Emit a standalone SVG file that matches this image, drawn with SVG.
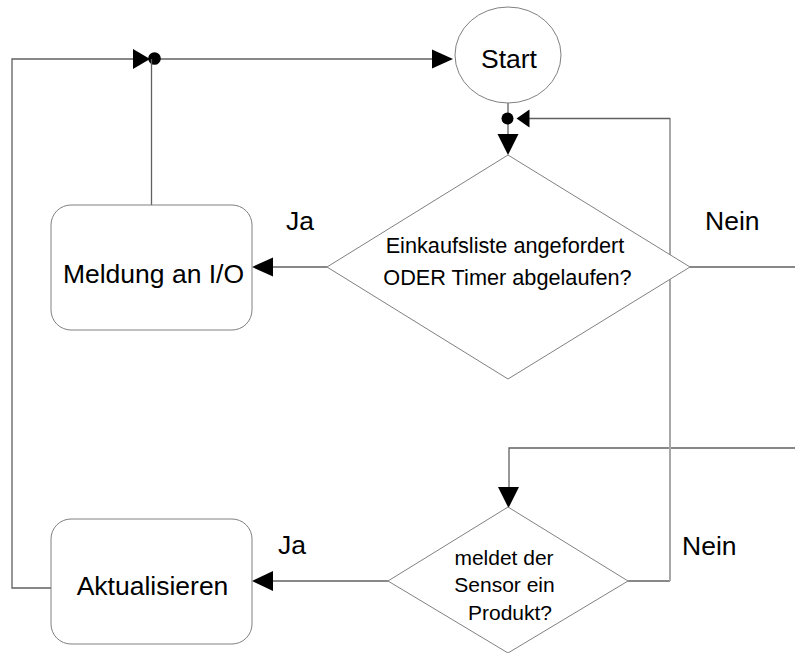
<svg xmlns="http://www.w3.org/2000/svg" width="795" height="653" viewBox="0 0 795 653">
<defs>
<style>
.bg{fill:#ffffff}
.shape{fill:#ffffff;stroke:#808080;stroke-width:1}
.line{fill:none;stroke:#606060;stroke-width:1.3}
.light{fill:none;stroke:#a8a8a8;stroke-width:2}
.head{fill:#000000}
.lbl{font-family:"Liberation Sans",Arial,sans-serif;font-size:26.5px;fill:#000000}
.dlbl{font-family:"Liberation Sans",Arial,sans-serif;font-size:21px;fill:#000000;text-anchor:middle}
.big{font-size:21.7px}
</style>
</defs>
<rect class="bg" x="0" y="0" width="795" height="653"/>
<g id="connectors">
  <!-- Aktualisieren loop back to start -->
  <polyline class="line" points="51,588 12,588 12,59 135,59"/>
  <line class="line" x1="160" y1="59" x2="435" y2="59"/>
  <polygon class="head" points="133,49 150,59 133,69"/>
  <circle class="head" cx="154.5" cy="58.5" r="6.3"/>
  <polygon class="head" points="432,49.5 453,59 432,68.5"/>
  <!-- Meldung up to loop -->
  <line class="line" x1="151.5" y1="205" x2="151.5" y2="59"/>
  <!-- Start down to diamond 1 -->
  <line class="line" x1="508" y1="103" x2="508" y2="137"/>
  <circle class="head" cx="507.5" cy="118.5" r="6"/>
  <polygon class="head" points="497.5,134 518.5,134 508,155"/>
  <!-- diamond 1 Ja -->
  <line class="line" x1="327" y1="267" x2="270" y2="267"/>
  <polygon class="head" points="273,257.5 273,276.5 252,267"/>
  <!-- diamond 1 Nein -->
  <line class="line" x1="690" y1="267" x2="795" y2="267"/>
  <!-- incoming from right to diamond 2 -->
  <polyline class="line" points="795,448 509,448 509,490"/>
  <polygon class="head" points="498,487 519,487 508.5,508"/>
  <!-- diamond 2 Nein loop back -->
  <polyline class="line" points="628,581 670,581"/>
  <polyline class="light" points="670,581 670,118"/>
  <line class="line" x1="670" y1="118.5" x2="527" y2="118.5"/>
  <polygon class="head" points="529.5,109.5 529.5,127.5 516.5,118.5"/>
  <!-- diamond 2 Ja -->
  <line class="line" x1="388" y1="581" x2="270" y2="581"/>
  <polygon class="head" points="273,571 273,591 252,581"/>
</g>
<g id="start">
  <ellipse class="shape" cx="508" cy="55" rx="53" ry="48"/>
  <text class="lbl" x="509" y="68" text-anchor="middle">Start</text>
</g>
<g id="decision1">
  <polygon class="shape" points="508,155 690,267 508,379 327,267"/>
  <text class="dlbl big" x="505" y="253">Einkaufsliste angefordert</text>
  <text class="dlbl big" x="507.5" y="285">ODER Timer abgelaufen?</text>
</g>
<g id="meldung">
  <rect class="shape" x="51" y="205" width="201" height="125" rx="20" ry="20"/>
  <text class="lbl" x="153.5" y="283" text-anchor="middle">Meldung an I/O</text>
</g>
<g id="decision2">
  <polygon class="shape" points="508,507 628,581 508,653 388,581"/>
  <text class="dlbl" x="504" y="565">meldet der</text>
  <text class="dlbl" x="504.5" y="592">Sensor ein</text>
  <text class="dlbl" x="510" y="620">Produkt?</text>
</g>
<g id="aktualisieren">
  <rect class="shape" x="51" y="519" width="201" height="125" rx="20" ry="20"/>
  <text class="lbl" x="152.5" y="595" text-anchor="middle">Aktualisieren</text>
</g>
<g id="labels">
  <text class="lbl" x="286" y="230">Ja</text>
  <text class="lbl" x="705" y="230">Nein</text>
  <text class="lbl" x="278" y="554">Ja</text>
  <text class="lbl" x="682" y="555">Nein</text>
</g>
</svg>
